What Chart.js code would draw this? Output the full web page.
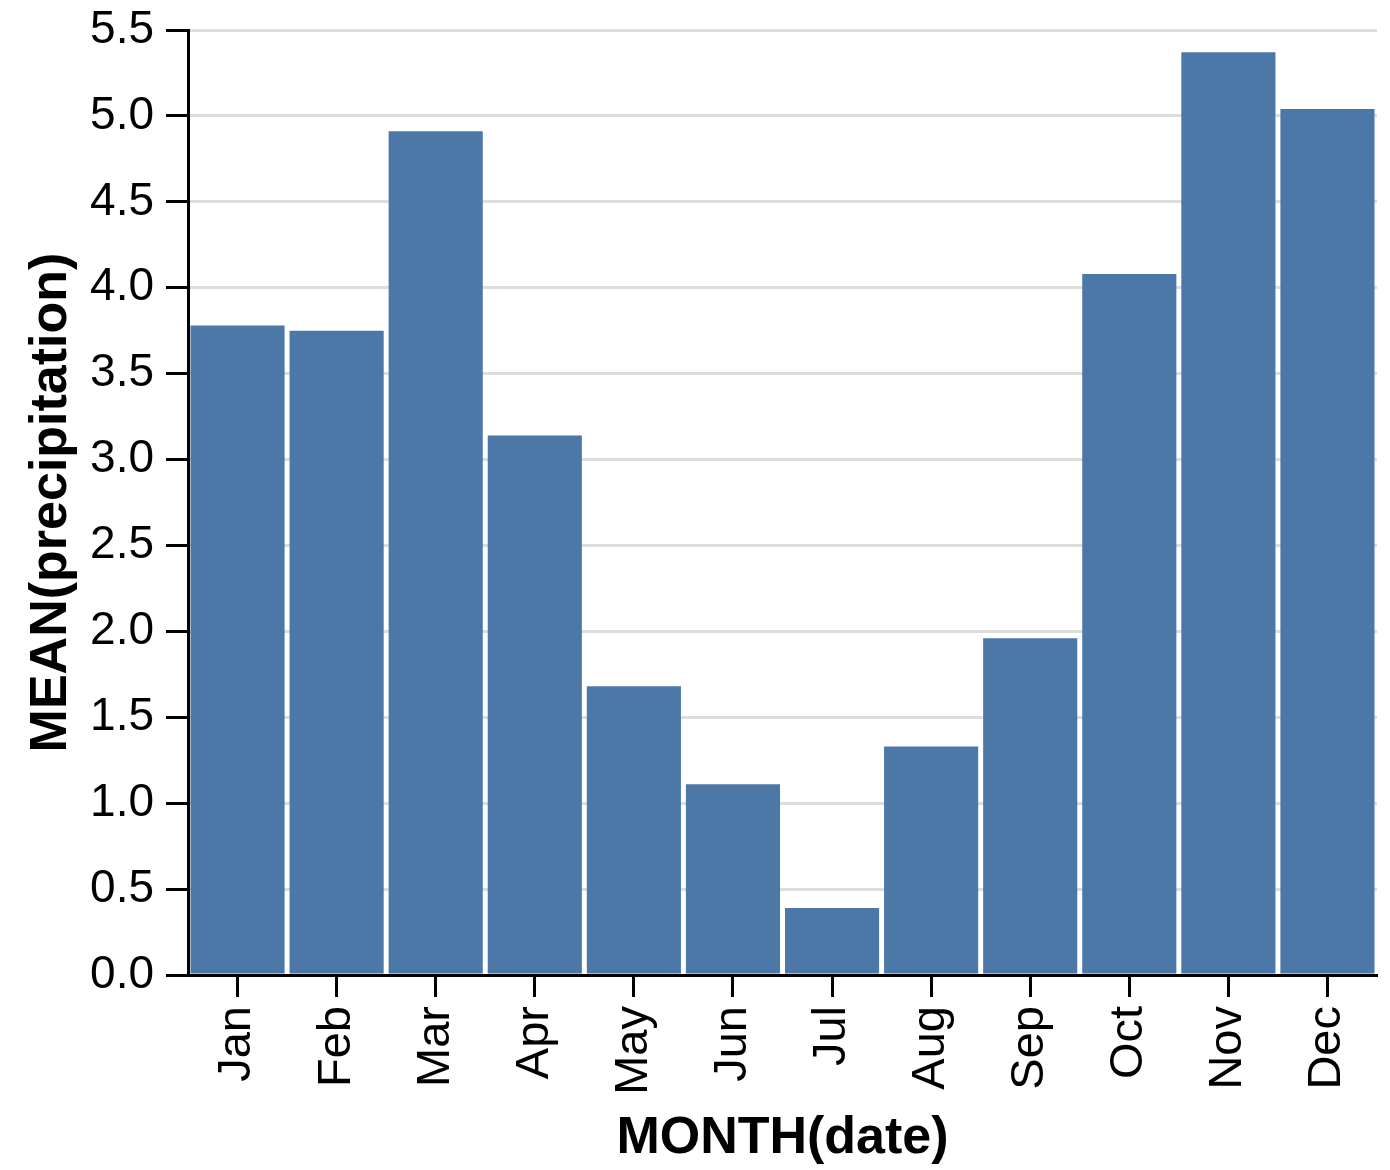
<!DOCTYPE html>
<html>
<head>
<meta charset="utf-8">
<script src="https://cdn.jsdelivr.net/npm/chart.js@4"></script>
<style>
  html, body { margin: 0; padding: 0; background: #fff; }
  #wrap { width: 1390px; height: 1170px; }
</style>
</head>
<body>
<div id="wrap"><canvas id="myChart" width="1390" height="1170"></canvas></div>
<script>
  // DATA
  const months = ['Jan', 'Feb', 'Mar', 'Apr', 'May', 'Jun', 'Jul', 'Aug', 'Sep', 'Oct', 'Nov', 'Dec'];
  const meanPrecipitation = [3.78, 3.75, 4.91, 3.14, 1.68, 1.11, 0.39, 1.33, 1.96, 4.08, 5.37, 5.04];
  const yTicks = [0, 0.5, 1, 1.5, 2, 2.5, 3, 3.5, 4, 4.5, 5, 5.5];

  const font = 'Liberation Sans, Arial, Helvetica, sans-serif';

  const data = {
    labels: months,
    datasets: [{
      label: 'MEAN(precipitation)',
      data: meanPrecipitation,
      backgroundColor: '#4c78a8',
      borderWidth: 0,
      barPercentage: 0.95,
      categoryPercentage: 1.0
    }]
  };

  // CONFIG BLOCK
  const config = {
    type: 'bar',
    data,
    options: {
      responsive: false,
      animation: false,
      layout: { padding: { top: 30, right: 13, left: 0, bottom: 0 } },
      plugins: {
        legend: { display: false },
        tooltip: { enabled: false }
      },
      scales: {
        x: {
          afterFit: (scale) => { scale.height = 195; scale.paddingLeft = 0; scale.paddingRight = 0; },
          grid: {
            offset: false,
            drawOnChartArea: false,
            drawTicks: true,
            tickLength: 22,
            tickColor: '#000',
            tickWidth: 3
          },
          border: { color: '#000', width: 3 },
          ticks: {
            color: '#000',
            minRotation: 90,
            maxRotation: 90,
            padding: 9,
            font: { family: font, size: 47 }
          },
          title: {
            display: true,
            text: 'MONTH(date)',
            color: '#000',
            padding: { top: 0, bottom: 0 },
            font: { family: font, size: 52, weight: 'bold' }
          }
        },
        y: {
          min: 0,
          max: 5.5,
          // fixed axis width, and no extra space for the half label at the top
          afterFit: (scale) => { scale.width = 188; scale.paddingTop = 0; scale.paddingBottom = 0; },
          afterBuildTicks: (scale) => { scale.ticks = yTicks.map(v => ({ value: v })); },
          grid: {
            color: '#dddddd',
            lineWidth: 3,
            tickLength: 22,
            tickColor: '#000',
            tickWidth: 3
          },
          border: { color: '#000', width: 3 },
          ticks: {
            color: '#000',
            padding: 12,
            font: { family: font, size: 46 },
            callback: (v) => Number(v).toFixed(1)
          },
          title: {
            display: true,
            text: 'MEAN(precipitation)',
            color: '#000',
            padding: { top: 20, bottom: 0 },
            font: { family: font, size: 52, weight: 'bold' }
          }
        }
      }
    }
  };

  // RENDER BLOCK
  const myChart = new Chart(document.getElementById('myChart'), config);
</script>
</body>
</html>
